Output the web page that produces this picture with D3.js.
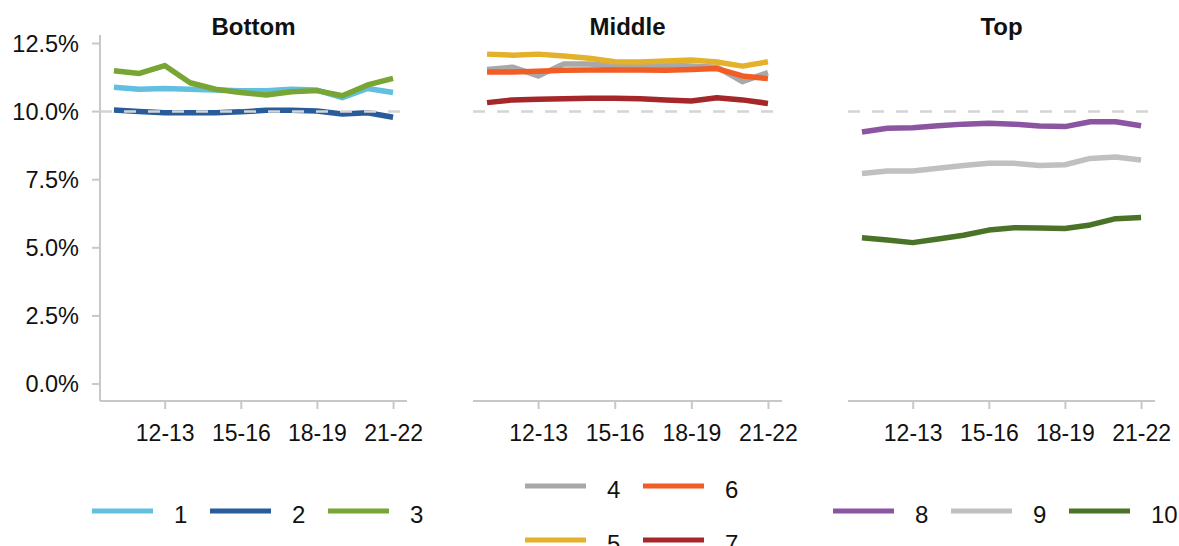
<!DOCTYPE html>
<html>
<head>
<meta charset="utf-8">
<script src="https://cdn.jsdelivr.net/npm/d3@7"></script>
<style>
  html, body { margin: 0; padding: 0; background: #fff; }
  svg { display: block; font-family: "Liberation Sans", Arial, sans-serif; }
</style>
</head>
<body>
<svg id="chart" width="1179" height="546"></svg>
<script>
// ---- Data ----
const years = ["10-11","11-12","12-13","13-14","14-15","15-16","16-17","17-18","18-19","19-20","20-21","21-22"];
const xTickLabels = ["12-13","15-16","18-19","21-22"];
const yTickValues = [0, 2.5, 5, 7.5, 10, 12.5];
const panelNames = ["Bottom", "Middle", "Top"];
const referenceValue = 10;

const s1 = [10.89,10.82,10.85,10.82,10.79,10.77,10.77,10.82,10.79,10.51,10.85,10.70];
const s2 = [10.06,10.00,9.96,9.96,9.96,9.99,10.05,10.05,10.02,9.91,9.96,9.79];
const s3 = [11.50,11.40,11.69,11.06,10.82,10.70,10.61,10.73,10.77,10.58,10.98,11.22];
const s4 = [11.55,11.63,11.31,11.75,11.75,11.67,11.67,11.70,11.67,11.63,11.10,11.43];
const s5 = [12.11,12.07,12.11,12.04,11.96,11.83,11.82,11.86,11.89,11.82,11.67,11.83];
const s6 = [11.45,11.45,11.48,11.52,11.53,11.53,11.53,11.52,11.55,11.58,11.31,11.21];
const s7 = [10.33,10.43,10.45,10.47,10.49,10.49,10.47,10.43,10.39,10.51,10.43,10.30];
const s8 = [9.25,9.39,9.41,9.48,9.54,9.57,9.54,9.47,9.45,9.63,9.63,9.48];
const s9 = [7.73,7.82,7.82,7.92,8.02,8.10,8.10,8.02,8.05,8.28,8.33,8.22];
const s10 = [5.37,5.29,5.19,5.32,5.46,5.65,5.74,5.73,5.71,5.84,6.07,6.11];

const seriesNames = ["1","2","3","4","5","6","7","8","9","10"];
const seriesValues = [s1,s2,s3,s4,s5,s6,s7,s8,s9,s10];
const seriesPanel = [0,0,0,1,1,1,1,2,2,2];

// ---- Styles / layout ----
const colors = ["#62bfe0","#295c9a","#79a534","#a8a8a8","#e4b22a","#f15d25","#a5272a","#8b55a2","#c0c0c0","#4b7328"];
const panelRanges = [[100,407],[473,782],[848,1155]];
const yTop = 43.5, yBottom = 384, axisY = 401, axisTop = 35;
const axisColor = "#c8c8c8";

const svg = d3.select("#chart");
const y = d3.scaleLinear().domain([0, 12.5]).range([yBottom, yTop]);

// Y axis (left panel only)
const yAxisG = svg.append("g");
yAxisG.append("line")
  .attr("x1", 100).attr("x2", 100).attr("y1", axisTop).attr("y2", axisY)
  .attr("stroke", axisColor).attr("stroke-width", 2);
yAxisG.selectAll("line.tick").data(yTickValues).join("line")
  .attr("class","tick")
  .attr("x1", 92).attr("x2", 100)
  .attr("y1", d => y(d)).attr("y2", d => y(d))
  .attr("stroke", axisColor).attr("stroke-width", 2);
yAxisG.selectAll("text").data(yTickValues).join("text")
  .attr("x", 79).attr("y", d => y(d))
  .attr("text-anchor", "end").attr("dominant-baseline", "central")
  .attr("font-size", 23.5).attr("fill", "#111")
  .text(d => d.toFixed(1) + "%");

const lineGen = (x) => d3.line().x((d, i) => x(years[i])).y(d => y(d));

panelNames.forEach((name, p) => {
  const [x0, x1] = panelRanges[p];
  const x = d3.scalePoint().domain(years).range([x0, x1]).padding(0.55);
  const g = svg.append("g");

  // Title
  g.append("text")
    .attr("x", (x0 + x1) / 2).attr("y", 35)
    .attr("text-anchor", "middle")
    .attr("font-size", 24).attr("font-weight", "bold").attr("fill", "#111")
    .text(name);

  // X axis
  const xAxis = d3.axisBottom(x).tickValues(xTickLabels).tickSize(8).tickPadding(16);
  const ax = g.append("g").attr("transform", `translate(0,${axisY})`).call(xAxis);
  ax.select(".domain").attr("d", `M${x0},0H${x1}`).attr("stroke", axisColor).attr("stroke-width", 2);
  ax.selectAll(".tick line").attr("stroke", axisColor).attr("stroke-width", 2);
  ax.selectAll(".tick text").attr("font-size", 23).attr("fill", "#111")
    .attr("font-family", '"Liberation Sans", Arial, sans-serif');

  // Series lines
  seriesValues.forEach((vals, si) => {
    if (seriesPanel[si] !== p) return;
    g.append("path")
      .datum(vals)
      .attr("d", lineGen(x))
      .attr("fill", "none")
      .attr("stroke", colors[si])
      .attr("stroke-width", 5.5)
      .attr("stroke-linejoin", "round");
  });

  // Reference line (drawn on top)
  g.append("line")
    .attr("x1", x0).attr("x2", x1)
    .attr("y1", y(referenceValue)).attr("y2", y(referenceValue))
    .attr("stroke", "#d4d4d4").attr("stroke-width", 2.5)
    .attr("stroke-dasharray", "12,12");
});

// ---- Legends ----
const legendLayout = [
  // [seriesIndex, segX, rowY]
  [0, 92, 511], [1, 210, 511], [2, 328, 511],
  [3, 525, 486], [5, 643, 486],
  [4, 525, 540], [6, 643, 540],
  [7, 833, 511], [8, 951, 511], [9, 1069, 511]
];
const lg = svg.append("g");
legendLayout.forEach(([si, lx, ly]) => {
  lg.append("line")
    .attr("x1", lx).attr("x2", lx + 61)
    .attr("y1", ly).attr("y2", ly)
    .attr("stroke", colors[si]).attr("stroke-width", 5);
  lg.append("text")
    .attr("x", lx + 82).attr("y", ly + 11.5)
    .attr("font-size", 24).attr("fill", "#111")
    .text(seriesNames[si]);
});
</script>
</body>
</html>
